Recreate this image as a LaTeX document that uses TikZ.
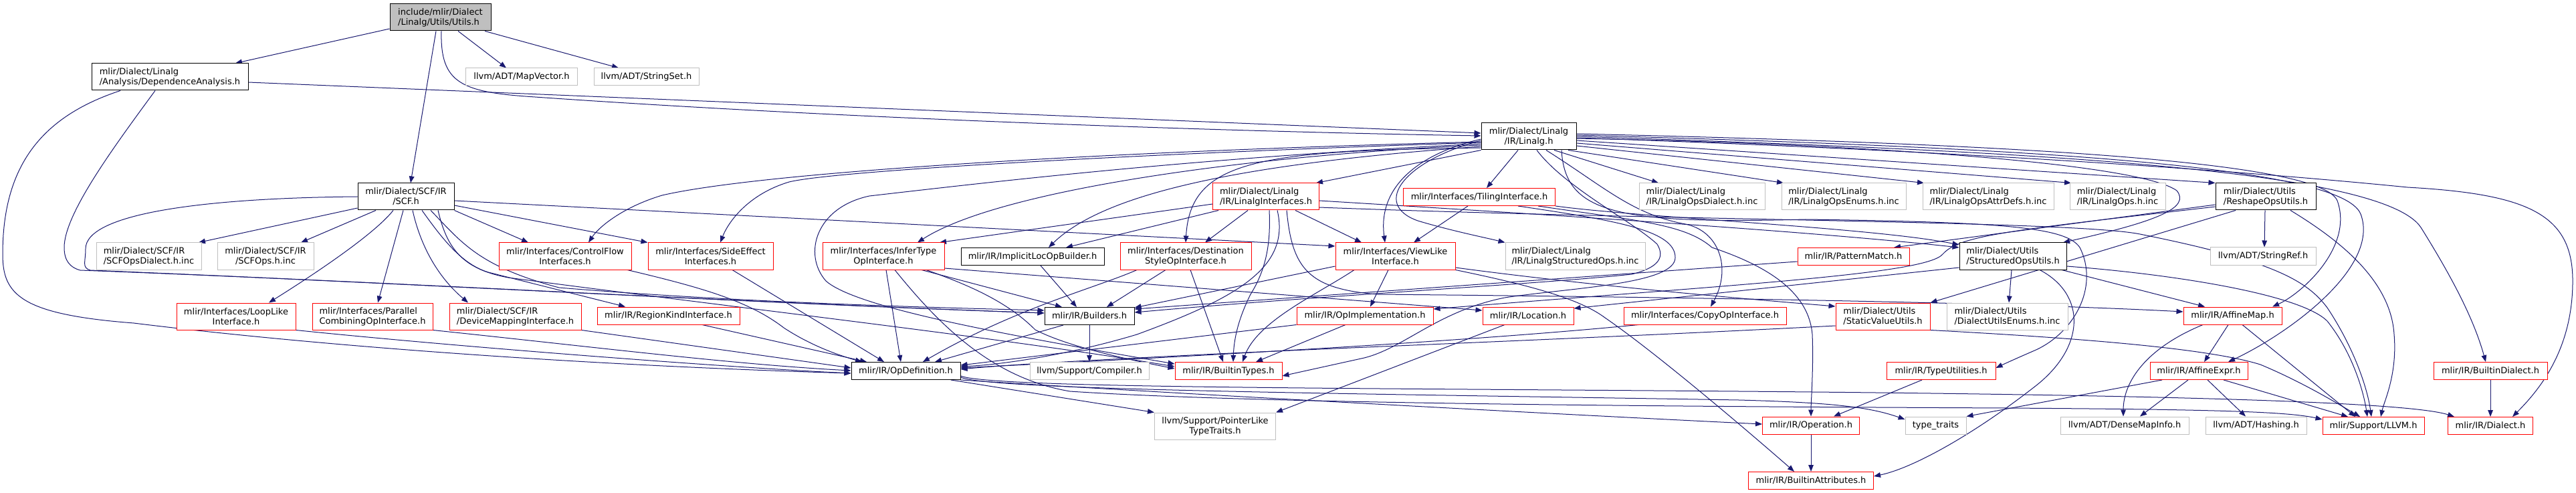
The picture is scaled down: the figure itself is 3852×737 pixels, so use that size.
\documentclass[tikz,border=0pt]{standalone}
\usepackage{fontspec}
\newfontfamily\dvs{DejaVu Sans}
\usetikzlibrary{arrows.meta}
\pgfdeclarelayer{bg}
\pgfsetlayers{bg,main}
\definecolor{edgec}{HTML}{191970}
\definecolor{grayb}{HTML}{BFBFBF}
\begin{document}
\begin{tikzpicture}[x=0.5pt,y=-0.5pt,
  base/.style={rectangle, inner sep=0pt, line width=0.5pt, fill=white, text=black, font=\dvs\fontsize{6.5}{7.5}\selectfont},
  bk/.style={base, draw=black},
  rd/.style={base, draw=red},
  gy/.style={base, draw=grayb},
  wh/.style 2 args={minimum width=#1*0.5pt, minimum height=#2*0.5pt},
  e/.style={draw=edgec, line width=0.5pt, -{Triangle[length=5pt,width=3.8pt]}},
]
\useasboundingbox (0,0) rectangle (3852,737);
% row 0
\node[bk, fill=grayb, wh={151}{40}, align=left] (utils) at (658.5,26) {include/mlir/Dialect\\/Linalg/Utils/Utils.h};
% row 1
\node[bk, wh={234}{40}, align=left] (dep) at (254,115) {mlir/Dialect/Linalg\\/Analysis/DependenceAnalysis.h};
\node[gy, wh={167}{26}] (mapvec) at (780,115) {llvm/ADT/MapVector.h};
\node[gy, wh={157}{26}] (strset) at (966.5,115) {llvm/ADT/StringSet.h};
% row 2
\node[bk, wh={142}{40}, align=center] (linalg) at (2286,204) {mlir/Dialect/Linalg\\/IR/Linalg.h};
% row 3
\node[bk, wh={144}{40}, align=center] (scf) at (607,294) {mlir/Dialect/SCF/IR\\/SCF.h};
\node[rd, wh={159}{40}, align=left] (lintf) at (1893,294) {mlir/Dialect/Linalg\\/IR/LinalgInterfaces.h};
\node[rd, wh={227}{26}] (tiling) at (2212,294.5) {mlir/Interfaces/TilingInterface.h};
\node[gy, wh={188}{40}, align=left] (lodial) at (2545,294) {mlir/Dialect/Linalg\\/IR/LinalgOpsDialect.h.inc};
\node[gy, wh={186}{40}, align=left] (loenums) at (2757,294) {mlir/Dialect/Linalg\\/IR/LinalgOpsEnums.h.inc};
\node[gy, wh={196}{40}, align=left] (loattr) at (2973,294) {mlir/Dialect/Linalg\\/IR/LinalgOpsAttrDefs.h.inc};
\node[gy, wh={143}{40}, align=left] (loops) at (3166.5,294) {mlir/Dialect/Linalg\\/IR/LinalgOps.h.inc};
\node[bk, wh={150}{40}, align=left] (reshape) at (3388,294) {mlir/Dialect/Utils\\/ReshapeOpsUtils.h};
% row 4
\node[gy, wh={157}{40}, align=left] (scfdial) at (222.5,383) {mlir/Dialect/SCF/IR\\/SCFOpsDialect.h.inc};
\node[gy, wh={144}{40}, align=center] (scfops) at (397,383) {mlir/Dialect/SCF/IR\\/SCFOps.h.inc};
\node[rd, wh={198}{40}, align=center] (ctrlflow) at (845,383) {mlir/Interfaces/ControlFlow\\Interfaces.h};
\node[rd, wh={187}{40}, align=center] (sideeff) at (1062.5,383) {mlir/Interfaces/SideEffect\\Interfaces.h};
\node[rd, wh={182}{40}, align=center] (infer) at (1321,383) {mlir/Interfaces/InferType\\OpInterface.h};
\node[bk, wh={214}{26}] (implicit) at (1544,383.5) {mlir/IR/ImplicitLocOpBuilder.h};
\node[rd, wh={196}{40}, align=center] (dest) at (1773,383) {mlir/Interfaces/Destination\\StyleOpInterface.h};
\node[rd, wh={179}{40}, align=center] (viewlike) at (2086.5,383) {mlir/Interfaces/ViewLike\\Interface.h};
\node[gy, wh={209}{40}, align=left] (lstruct) at (2355.5,383) {mlir/Dialect/Linalg\\/IR/LinalgStructuredOps.h.inc};
\node[rd, wh={167}{26}] (pattern) at (2771.5,383.5) {mlir/IR/PatternMatch.h};
\node[bk, wh={160}{40}, align=left] (structutils) at (3010,383) {mlir/Dialect/Utils\\/StructuredOpsUtils.h};
\node[gy, wh={158}{26}] (strref) at (3384,383) {llvm/ADT/StringRef.h};
% row 5
\node[rd, wh={178}{40}, align=center] (looplike) at (353,473) {mlir/Interfaces/LoopLike\\Interface.h};
\node[rd, wh={180}{40}, align=left] (parallel) at (557,473) {mlir/Interfaces/Parallel\\CombiningOpInterface.h};
\node[rd, wh={197}{40}, align=left] (devmap) at (770.5,473) {mlir/Dialect/SCF/IR\\/DeviceMappingInterface.h};
\node[rd, wh={213}{26}] (regionkind) at (999.5,472) {mlir/IR/RegionKindInterface.h};
\node[bk, wh={134}{26}] (builders) at (1629,472.5) {mlir/IR/Builders.h};
\node[rd, wh={204}{26}] (opimpl) at (2041,472) {mlir/IR/OpImplementation.h};
\node[rd, wh={136}{26}] (location) at (2285,472) {mlir/IR/Location.h};
\node[rd, wh={243}{26}] (copyop) at (2549.5,472) {mlir/Interfaces/CopyOpInterface.h};
\node[rd, wh={141}{40}, align=left] (staticval) at (2815.5,473) {mlir/Dialect/Utils\\/StaticValueUtils.h};
\node[gy, wh={181}{40}, align=left] (dialenums) at (3001.5,473) {mlir/Dialect/Utils\\/DialectUtilsEnums.h.inc};
\node[rd, wh={147}{26}] (affmap) at (3338.5,472) {mlir/IR/AffineMap.h};
% row 6
\node[bk, wh={163}{26}] (opdef) at (1354.5,554.5) {mlir/IR/OpDefinition.h};
\node[gy, wh={178}{26}] (compiler) at (1629,554.5) {llvm/Support/Compiler.h};
\node[rd, wh={160}{26}] (btypes) at (1837,554.5) {mlir/IR/BuiltinTypes.h};
\node[rd, wh={163}{26}] (typeutil) at (2902.5,554.5) {mlir/IR/TypeUtilities.h};
\node[rd, wh={146}{26}] (affexpr) at (3288,554.5) {mlir/IR/AffineExpr.h};
\node[rd, wh={170}{26}] (bdialect) at (3724,554.5) {mlir/IR/BuiltinDialect.h};
% row 7
\node[gy, wh={181}{40}, align=center] (pointerlike) at (1817,637) {llvm/Support/PointerLike\\TypeTraits.h};
\node[rd, wh={145}{26}] (operation) at (2708,636) {mlir/IR/Operation.h};
\node[gy, wh={91}{26}] (typetraits) at (2894.5,636) {type\_traits};
\node[gy, wh={192}{26}] (densemap) at (3177,636) {llvm/ADT/DenseMapInfo.h};
\node[gy, wh={151}{26}] (hashing) at (3373.5,636) {llvm/ADT/Hashing.h};
\node[rd, wh={152}{26}] (llvm) at (3549,636.5) {mlir/Support/LLVM.h};
\node[rd, wh={127}{26}] (dialect) at (3724,636.5) {mlir/IR/Dialect.h};
% row 8
\node[rd, wh={187}{26}] (battr) at (2708,718.5) {mlir/IR/BuiltinAttributes.h};

\begin{pgfonlayer}{bg}
\fill[white] (0,0) rectangle (3852,737);
% utils
\draw[e] (utils.west |- 0,43) -- (dep.north -| 352,0);
\draw[e] (utils.south -| 652,0) -- (scf.north -| 614,0);
\draw[e] (utils.south -| 685,0) -- (mapvec.north -| 757,0);
\draw[e] (utils.south -| 725,0) -- (strset.north -| 925,0);
\draw[e] (utils.south -| 660,0) .. controls (658,125) and (690,138) .. (800,145) .. controls (1300,180) and (1900,198) .. (linalg.west |- 0,203);
% dep
\draw[e] (dep.east |- 0,123) -- (linalg.west |- 0,199);
\draw[e] (dep.south -| 180,0) .. controls (60,175) and (4,250) .. (4,380) .. controls (4,440) and (30,470) .. (200,483) .. controls (500,520) and (900,547) .. (opdef.west |- 0,558);
\draw[e] (dep.south -| 232,0) .. controls (170,220) and (96,320) .. (96,370) .. controls (96,390) and (105,400) .. (120,404) .. controls (600,422) and (1100,452) .. (builders.west |- 0,468);
% scf
\draw[e] (scf.west |- 0,311) -- (scfdial.north -| 297,0);
\draw[e] (scf.south -| 562,0) -- (scfops.north -| 450,0);
\draw[e] (scf.south -| 588,0) .. controls (560,350) and (470,410) .. (looplike.north -| 402,0);
\draw[e] (scf.south -| 603,0) -- (parallel.north -| 565,0);
\draw[e] (scf.south -| 617,0) .. controls (627,360) and (650,410) .. (devmap.north -| 700,0);
\draw[e] (scf.south -| 631,0) .. controls (660,355) and (690,395) .. (730,407) -- (regionkind.north -| 935,0);
\draw[e] (scf.south east) -- (ctrlflow.north -| 790,0);
\draw[e] (scf.east |- 0,307) -- (sideeff.north west);
\draw[e] (scf.east |- 0,300) -- (viewlike.west |- 0,368);
\draw[e] (scf.west |- 0,294) .. controls (300,296) and (128,320) .. (128,372) .. controls (128,392) and (122,400) .. (135,404) .. controls (600,423) and (1100,452) .. (builders.west |- 0,468);
\draw[e] (scf.south -| 644,0) .. controls (690,362) and (715,398) .. (836,430) .. controls (1100,452) and (1400,460) .. (builders.west |- 0,464);
\draw[e] (scf.south -| 655,0) .. controls (668,370) and (690,402) .. (760,415) .. controls (1100,460) and (1500,505) .. (btypes.west |- 0,548);
% linalg left
\draw[e] (linalg.west |- 0,212) .. controls (1700,225) and (1150,255) .. (990,292) .. controls (930,310) and (895,340) .. (ctrlflow.north -| 880,0);
\draw[e] (linalg.west |- 0,213) .. controls (1700,230) and (1250,255) .. (1180,272) .. controls (1120,290) and (1090,330) .. (sideeff.north -| 1077,0);
\draw[e] (linalg.west |- 0,215) .. controls (1800,235) and (1500,270) .. (1300,293) .. controls (1220,310) and (1200,380) .. (1235,420) .. controls (1280,460) and (1500,500) .. (btypes.west |- 0,544);
\draw[e] (linalg.west |- 0,217) .. controls (1900,230) and (1500,280) .. (infer.north -| 1372,0);
\draw[e] (linalg.west |- 0,219) .. controls (1850,245) and (1650,290) .. (implicit.north -| 1568,0);
\draw[e] (linalg.west |- 0,221) .. controls (1880,225) and (1780,240) .. (dest.north -| 1773,0);
\draw[e] (linalg.south west) -- (lintf.north -| 1968,0);
\draw[e] (linalg.west |- 0,208) .. controls (2120,230) and (2060,280) .. (viewlike.north -| 2071,0);
\draw[e] (linalg.west |- 0,210) .. controls (2100,240) and (2050,305) .. (2120,330) .. controls (2170,345) and (2220,355) .. (lstruct.north west);
% linalg bottom / right
\draw[e] (linalg.south -| 2270,0) -- (tiling.north -| 2223,0);
\draw[e] (linalg.south -| 2298,0) .. controls (2340,280) and (2440,330) .. (2478,365) .. controls (2490,385) and (2480,400) .. (2440,410) .. controls (2300,425) and (2000,440) .. (builders.east |- 0,467);
\draw[e] (linalg.south -| 2312,0) .. controls (2400,280) and (2440,320) .. (2520,335) .. controls (2570,345) and (2590,400) .. (copyop.north -| 2558,0);
\draw[e] (linalg.south -| 2324,0) -- (lodial.north -| 2480,0);
\draw[e] (linalg.south -| 2345,0) -- (loenums.north -| 2667,0);
\draw[e] (linalg.east |- 0,218) -- (loattr.north -| 2877,0);
\draw[e] (linalg.east |- 0,214) -- (loops.north -| 3097,0);
\draw[e] (linalg.east |- 0,210) -- (reshape.north west);
\draw[e] (linalg.east |- 0,207) .. controls (2800,215) and (3200,245) .. (3255,285) .. controls (3275,310) and (3230,330) .. (structutils.north -| 3085,0);
\draw[e] (linalg.south -| 2335,0) .. controls (2340,320) and (2420,335) .. (2700,328) .. controls (3000,332) and (3090,340) .. (3110,370) .. controls (3140,430) and (3100,500) .. (3040,525) .. controls (3010,538) and (2995,545) .. (typeutil.east |- 0,550);
\draw[e] (linalg.east |- 0,200) .. controls (3000,215) and (3470,240) .. (3495,300) .. controls (3520,370) and (3440,440) .. (affmap.north -| 3398,0);
\draw[e] (linalg.east |- 0,202) .. controls (3000,220) and (3500,245) .. (3530,320) .. controls (3560,400) and (3420,500) .. (affexpr.north -| 3332,0);
\draw[e] (linalg.east |- 0,204) .. controls (3000,225) and (3560,250) .. (3620,340) .. controls (3670,420) and (3700,480) .. (bdialect.north -| 3717,0);
\draw[e] (linalg.east |- 0,206) .. controls (3000,228) and (3400,260) .. (3600,280) .. controls (3780,290) and (3847,320) .. (3847,420) .. controls (3847,520) and (3800,580) .. (dialect.north -| 3757,0);
% lintf
\draw[e] (lintf.west |- 0,305) -- (infer.north -| 1405,0);
\draw[e] (lintf.south -| 1822,0) -- (implicit.north -| 1594,0);
\draw[e] (lintf.south -| 1866,0) -- (dest.north -| 1802,0);
\draw[e] (lintf.south -| 1937,0) -- (viewlike.north -| 2036,0);
\draw[e] (lintf.south -| 1898,0) .. controls (1900,360) and (1895,400) .. (1870,440) .. controls (1850,480) and (1845,510) .. (btypes.north -| 1844,0);
\draw[e] (lintf.south -| 1910,0) .. controls (1930,400) and (1850,445) .. (1700,500) .. controls (1600,530) and (1500,545) .. (opdef.east |- 0,548);
\draw[e] (lintf.south -| 1924,0) .. controls (1932,400) and (1955,432) .. (2060,440) .. controls (2500,444) and (3000,452) .. (affmap.west |- 0,466);
\draw[e] (lintf.east |- 0,300) .. controls (2300,320) and (2700,345) .. (structutils.west |- 0,370);
\draw[e] (lintf.east |- 0,310) .. controls (2500,330) and (3100,330) .. (3200,350) .. controls (3400,390) and (3450,420) .. (3480,460) .. controls (3520,520) and (3540,580) .. (llvm.north -| 3546,0);
% tiling
\draw[e] (tiling.south -| 2195,0) -- (viewlike.north -| 2114,0);
\draw[e] (tiling.south east) .. controls (2450,325) and (2800,340) .. (structutils.west |- 0,366);
\draw[e] (tiling.south -| 2270,0) .. controls (2420,330) and (2505,345) .. (2505,385) .. controls (2505,425) and (2350,430) .. (2250,445) .. controls (2150,465) and (2100,520) .. (2040,535) -- (btypes.east |- 0,562);
\draw[e] (tiling.south -| 2300,0) .. controls (2450,330) and (2520,335) .. (2560,370) .. controls (2650,400) and (2705,440) .. (2710,500) .. controls (2712,550) and (2708,600) .. (operation.north);
% viewlike
\draw[e] (viewlike.east |- 0,400) .. controls (2400,430) and (2650,450) .. (staticval.west |- 0,458);
\draw[e] (viewlike.south east) .. controls (2280,425) and (2360,445) .. (2400,475) .. controls (2480,530) and (2620,650) .. (battr.north -| 2683,0);
\draw[e] (viewlike.south -| 2076,0) -- (opimpl.north -| 2049,0);
\draw[e] (viewlike.west |- 0,398) -- (builders.east |- 0,460);
\draw[e] (viewlike.south -| 2025,0) .. controls (1970,440) and (1880,480) .. (btypes.north -| 1858,0);
% infer
\draw[e] (infer.south -| 1378,0) -- (builders.north -| 1588,0);
\draw[e] (infer.south -| 1385,0) .. controls (1460,430) and (1510,455) .. (1548,493) .. controls (1600,520) and (1700,540) .. (btypes.west |- 0,551);
\draw[e] (infer.south -| 1325,0) -- (opdef.north -| 1347,0);
\draw[e] (infer.east |- 0,401) -- (location.west |- 0,464);
\draw[e] (infer.south -| 1338,0) .. controls (1400,480) and (1480,565) .. (1600,585) .. controls (1900,605) and (2600,608) .. (3000,610) .. controls (3300,612) and (3420,615) .. (llvm.west |- 0,627);
% opdef
\draw[e] (opdef.south east) .. controls (1700,585) and (2300,618) .. (operation.west |- 0,634);
\draw[e] (opdef.east |- 0,562) .. controls (1480,580) and (2000,580) .. (2600,585) .. controls (3200,590) and (3600,600) .. (dialect.north -| 3670,0);
\draw[e] (opdef.east |- 0,564) .. controls (1480,583) and (2000,588) .. (2600,598) .. controls (2750,602) and (2800,610) .. (typetraits.west |- 0,627);
\draw[e] (opdef.south -| 1422,0) -- (pointerlike.north west);
% interfaces to opdef
\draw[e] (looplike.south east) .. controls (700,520) and (1100,550) .. (opdef.west |- 0,558);
\draw[e] (parallel.south east) .. controls (900,520) and (1100,545) .. (opdef.west |- 0,554);
\draw[e] (devmap.south east) -- (opdef.west |- 0,550);
\draw[e] (regionkind.south -| 1050,0) -- (opdef.north -| 1296,0);
\draw[e] (ctrlflow.south -| 938,0) .. controls (1050,430) and (1120,450) .. (1172,490) .. controls (1210,515) and (1250,530) .. (opdef.north -| 1289,0);
\draw[e] (sideeff.south -| 1095,0) -- (opdef.north -| 1322,0);
% builders cluster
\draw[e] (implicit.south -| 1556,0) -- (builders.north -| 1610,0);
\draw[e] (dest.south -| 1743,0) -- (builders.north -| 1655,0);
\draw[e] (dest.south -| 1780,0) -- (btypes.north -| 1829,0);
\draw[e] (dest.south -| 1700,0) .. controls (1640,430) and (1520,460) .. (opdef.north -| 1380,0);
\draw[e] (builders.south -| 1590,0) -- (opdef.north -| 1398,0);
\draw[e] (builders.south) -- (compiler.north);
\draw[e] (opimpl.south west) -- (opdef.east |- 0,546);
\draw[e] (opimpl.south -| 2012,0) -- (btypes.north -| 1878,0);
\draw[e] (copyop.south -| 2450,0) .. controls (2200,510) and (1800,532) .. (opdef.east |- 0,550);
\draw[e] (staticval.west |- 0,487) .. controls (2400,505) and (2000,520) .. (1800,530) .. controls (1600,540) and (1500,546) .. (opdef.east |- 0,552);
\draw[e] (staticval.south east) .. controls (3100,505) and (3300,520) .. (3380,545) .. controls (3440,570) and (3490,600) .. (llvm.north -| 3529,0);
\draw[e] (location.south -| 2250,0) -- (pointerlike.north east);
\draw[e] (pattern.west |- 0,391) -- (builders.east |- 0,462);
% reshape
\draw[e] (reshape.west |- 0,306) -- (pattern.north -| 2832,0);
\draw[e] (reshape.west |- 0,309) .. controls (3000,345) and (2930,352) .. (2905,380) .. controls (2880,410) and (2600,425) .. (opimpl.east |- 0,462);
\draw[e] (reshape.south -| 3343,0) -- (staticval.north east);
\draw[e] (reshape.south -| 3387,0) -- (strref.north -| 3386,0);
\draw[e] (reshape.south -| 3425,0) .. controls (3500,360) and (3575,420) .. (3580,500) .. controls (3585,560) and (3565,600) .. (llvm.north -| 3560,0);
% structutils
\draw[e] (structutils.south -| 3083,0) -- (affmap.north -| 3297,0);
\draw[e] (structutils.south -| 3008,0) -- (dialenums.north -| 3004,0);
\draw[e] (structutils.south -| 3050,0) .. controls (3120,440) and (3120,520) .. (3040,580) .. controls (2950,650) and (2860,700) .. (battr.east |- 0,712);
\draw[e] (structutils.west |- 0,400) -- (location.east |- 0,461);
\draw[e] (structutils.east |- 0,398) .. controls (3250,410) and (3440,440) .. (3480,480) .. controls (3520,530) and (3535,590) .. (llvm.north -| 3540,0);
% affine
\draw[e] (affmap.south -| 3332,0) -- (affexpr.north -| 3296,0);
\draw[e] (affmap.south -| 3294,0) .. controls (3210,520) and (3175,570) .. (densemap.north -| 3175,0);
\draw[e] (affmap.south -| 3353,0) -- (llvm.north -| 3522,0);
\draw[e] (affexpr.south -| 3233,0) -- (typetraits.north east);
\draw[e] (affexpr.south -| 3272,0) -- (densemap.north -| 3200,0);
\draw[e] (affexpr.south -| 3301,0) -- (hashing.north -| 3358,0);
\draw[e] (affexpr.south -| 3325,0) -- (llvm.north -| 3511,0);
\draw[e] (bdialect.south) -- (dialect.north);
\draw[e] (typeutil.south -| 2874,0) -- (operation.north -| 2742,0);
\draw[e] (operation.south) -- (battr.north);
\end{pgfonlayer}
\end{tikzpicture}
\end{document}
